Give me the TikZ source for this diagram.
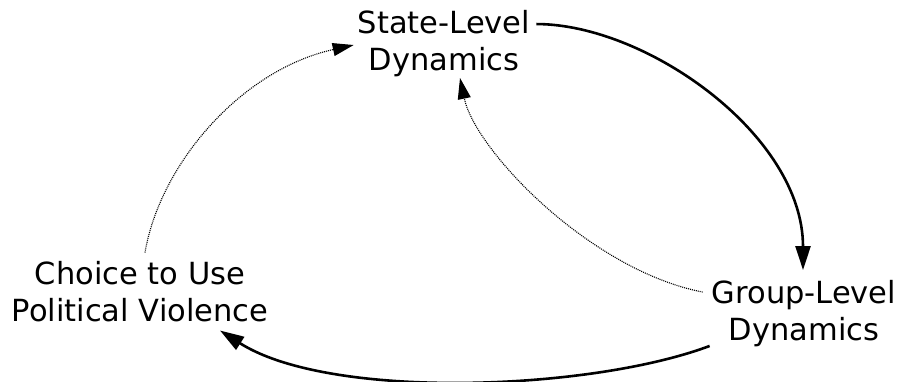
\documentclass[tikz,border=0pt]{standalone}
\usepackage{fontspec}
\setmainfont{DejaVu Sans}
\usetikzlibrary{arrows.meta}
\tikzset{
  lbl/.style={inner sep=0pt, align=center, font=\fontsize{30.5}{37}\selectfont},
  strongarrow/.style={line width=2.6pt, -{Triangle[length=24pt,width=15pt]}},
  weakarrow/.style={line width=1.1pt, dash pattern=on 1pt off 1pt, -{Triangle[length=21pt,width=13pt]}}
}
\begin{document}
\begin{tikzpicture}[x=1pt,y=-1pt]
\useasboundingbox (0,0) rectangle (899,381);
\node[lbl] (state) at (444,43.5) {State-Level\\Dynamics};
\node[lbl] (choice) at (140,292) {Choice to Use\\Political Violence};
\node[lbl] (group) at (804,313.5) {Group-Level\\Dynamics};
\draw[strongarrow] ([shift={(6,14)}]state.north east) .. controls +(110,0) and +(0,-135) .. ([shift={(-1,-10)}]group.north);
\draw[strongarrow] ([shift={(-2,-1)}]group.south west) .. controls +(-120,45) and +(110,70) .. ([shift={(80,8)}]choice.south);
\draw[weakarrow] ([shift={(5,-9)}]choice.north) .. controls +(15,-88) and +(-113,25) .. ([shift={(-4,1.5)}]state.west);
\draw[weakarrow] ([shift={(-9,12)}]group.north west) .. controls +(-113,-22) and +(15,72) .. ([shift={(16,1)}]state.south);
\end{tikzpicture}
\end{document}
